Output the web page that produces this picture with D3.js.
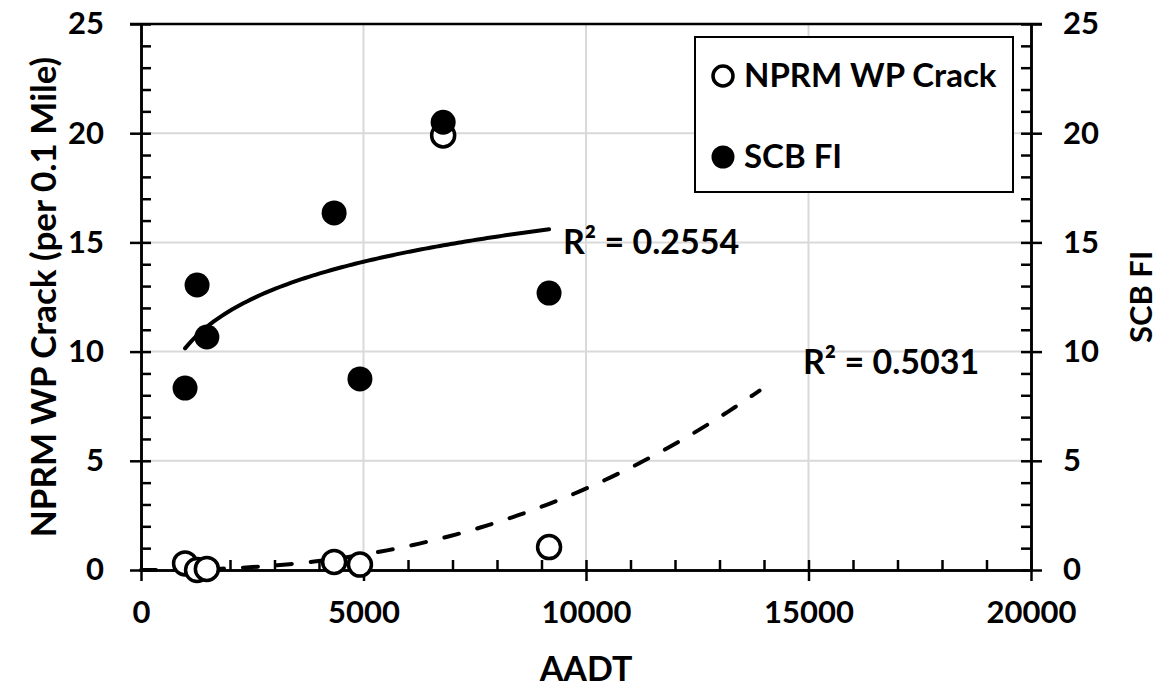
<!DOCTYPE html>
<html>
<head>
<meta charset="utf-8">
<script src="https://cdn.jsdelivr.net/npm/d3@7"></script>
<style>
  html, body { margin: 0; padding: 0; background: #fff; }
  svg { display: block; }
  text { font-family: Lato, "Open Sans", sans-serif; font-weight: 700; fill: #000; }
</style>
</head>
<body>
<svg id="chart" width="1171" height="691"></svg>
<script>
// ---- Data ----
const aadt        = [990, 1260, 1480, 4340, 4920, 6790, 9170];
const nprmCrack   = [0.3, 0.0, 0.05, 0.37, 0.25, 19.9, 1.05];
const scbFI       = [8.33, 13.05, 10.67, 16.35, 8.75, 20.5, 12.68];
const xTicks      = [0, 5000, 10000, 15000, 20000];
const yTicks      = [0, 5, 10, 15, 20, 25];
const r2Labels    = ["R\u00B2 = 0.2554", "R\u00B2 = 0.5031"];
// power trend of NPRM WP Crack: y = k * x^p, drawn 0..13900
const nprmPowerK  = 8.2 / Math.pow(13888, 2.4);
const nprmPowerP  = 2.4;
const nprmTrendRange = [0, 13900];

// ---- Layout ----
const svg = d3.select("#chart");
const L = 141, R = 1031, T = 24, B = 570;
const x = d3.scaleLinear().domain([0, 20000]).range([L, R]);
const y = d3.scaleLinear().domain([0, 25]).range([B, T]);
const y2 = d3.scaleLinear().domain([0, 25]).range([B, T]);
const TICK_FS = 31, LABEL_FS = 34;

// gridlines
const grid = svg.append("g");
grid.selectAll("line.gx").data(xTicks.slice(1, -1)).join("line")
  .attr("x1", d => x(d)).attr("x2", d => x(d)).attr("y1", T).attr("y2", B)
  .attr("stroke", "#d9d9d9").attr("stroke-width", 2);
grid.selectAll("line.gy").data(yTicks.slice(1, -1)).join("line")
  .attr("x1", L).attr("x2", R).attr("y1", d => y(d)).attr("y2", d => y(d))
  .attr("stroke", "#d9d9d9").attr("stroke-width", 2);

// top border
svg.append("line").attr("x1", L - 11).attr("x2", R + 11).attr("y1", T).attr("y2", T)
  .attr("stroke", "#000").attr("stroke-width", 2.5);

function styleAxis(g) {
  g.selectAll("path.domain").attr("stroke", "#000").attr("stroke-width", 2.5);
  g.selectAll(".tick line").attr("stroke", "#000").attr("stroke-width", 2.5);
}
const minorX = d3.range(0, 20001, 1000);
const minorY = d3.range(0, 25.01, 1);

// bottom axis: outer major ticks with labels
const gxOut = svg.append("g").attr("transform", `translate(0,${B})`)
  .call(d3.axisBottom(x).tickValues(xTicks).tickSizeInner(11).tickSizeOuter(0).tickPadding(20).tickFormat(d3.format("d")));
styleAxis(gxOut);
gxOut.selectAll(".tick text").attr("font-size", TICK_FS).attr("font-family", "Lato").attr("font-weight", 700).attr("dy", "0.72em");
const gxIn = svg.append("g").attr("transform", `translate(0,${B})`)
  .call(d3.axisTop(x).tickValues(minorX).tickSizeInner(10).tickSizeOuter(0).tickFormat(""));
styleAxis(gxIn);

// left axis
const gyOut = svg.append("g").attr("transform", `translate(${L},0)`)
  .call(d3.axisLeft(y).tickValues(yTicks).tickSizeInner(11).tickSizeOuter(0).tickPadding(26));
styleAxis(gyOut);
gyOut.selectAll(".tick text").attr("font-size", TICK_FS).attr("font-family", "Lato").attr("font-weight", 700);
const gyIn = svg.append("g").attr("transform", `translate(${L},0)`)
  .call(d3.axisRight(y).tickValues(minorY).tickSizeInner(10).tickSizeOuter(0).tickFormat(""));
styleAxis(gyIn);

// right axis
const gy2Out = svg.append("g").attr("transform", `translate(${R},0)`)
  .call(d3.axisRight(y2).tickValues(yTicks).tickSizeInner(11).tickSizeOuter(0).tickPadding(21));
styleAxis(gy2Out);
gy2Out.selectAll(".tick text").attr("font-size", TICK_FS).attr("font-family", "Lato").attr("font-weight", 700);
const gy2In = svg.append("g").attr("transform", `translate(${R},0)`)
  .call(d3.axisLeft(y2).tickValues(minorY).tickSizeInner(10).tickSizeOuter(0).tickFormat(""));
styleAxis(gy2In);

// axis titles
svg.append("text").attr("x", (L + R) / 2).attr("y", 681).attr("text-anchor", "middle")
  .attr("font-size", LABEL_FS).text("AADT");
svg.append("text").attr("transform", `translate(56,${(T + B) / 2}) rotate(-90)`)
  .attr("text-anchor", "middle").attr("font-size", 35).text("NPRM WP Crack (per 0.1 Mile)");
svg.append("text").attr("transform", `translate(1152,${(T + B) / 2}) rotate(-90)`)
  .attr("text-anchor", "middle").attr("font-size", 31).text("SCB FI");

// ---- trendlines ----
// logarithmic least-squares fit of SCB FI vs AADT
const lx = aadt.map(Math.log);
const mx = d3.mean(lx), my = d3.mean(scbFI);
const sxy = d3.sum(lx, (v, i) => (v - mx) * (scbFI[i] - my));
const sxx = d3.sum(lx, v => (v - mx) * (v - mx));
const la = sxy / sxx, lb = my - la * mx;
const xmin = d3.min(aadt), xmax = d3.max(aadt);
const logCurve = d3.range(0, 101).map(i => {
  const xv = xmin + (xmax - xmin) * i / 100;
  return [xv, la * Math.log(xv) + lb];
});
const line2 = d3.line().x(d => x(d[0])).y(d => y2(d[1]));
svg.append("path").datum(logCurve).attr("d", line2)
  .attr("fill", "none").attr("stroke", "#000").attr("stroke-width", 4).attr("stroke-linecap", "round");

const powCurve = d3.range(0, 101).map(i => {
  const xv = nprmTrendRange[0] + (nprmTrendRange[1] - nprmTrendRange[0]) * i / 100;
  return [xv, nprmPowerK * Math.pow(xv, nprmPowerP)];
});
const line1 = d3.line().x(d => x(d[0])).y(d => y(d[1]));
svg.append("path").datum(powCurve).attr("d", line1)
  .attr("fill", "none").attr("stroke", "#000").attr("stroke-width", 4)
  .attr("stroke-linecap", "round").attr("stroke-dasharray", "15,19");

// ---- points ----
svg.append("g").selectAll("circle").data(aadt).join("circle")
  .attr("cx", d => x(d)).attr("cy", (d, i) => y(nprmCrack[i])).attr("r", 11.5)
  .attr("fill", "#fff").attr("stroke", "#000").attr("stroke-width", 3.5);
svg.append("g").selectAll("circle").data(aadt).join("circle")
  .attr("cx", d => x(d)).attr("cy", (d, i) => y2(scbFI[i])).attr("r", 12.5)
  .attr("fill", "#000");

// R² labels
svg.append("text").attr("x", 563).attr("y", 254).attr("font-size", LABEL_FS).text(r2Labels[0]);
svg.append("text").attr("x", 803).attr("y", 374).attr("font-size", LABEL_FS).text(r2Labels[1]);

// ---- legend ----
const lg = svg.append("g");
lg.append("rect").attr("x", 695).attr("y", 37).attr("width", 318).attr("height", 155)
  .attr("fill", "#fff").attr("stroke", "#000").attr("stroke-width", 2);
lg.append("circle").attr("cx", 723).attr("cy", 76).attr("r", 10)
  .attr("fill", "#fff").attr("stroke", "#000").attr("stroke-width", 3.5);
lg.append("circle").attr("cx", 723).attr("cy", 157).attr("r", 11.5).attr("fill", "#000");
lg.append("text").attr("x", 744).attr("y", 87).attr("font-size", 33).text("NPRM WP Crack");
lg.append("text").attr("x", 744).attr("y", 168).attr("font-size", 33).text("SCB FI");
</script>
</body>
</html>
